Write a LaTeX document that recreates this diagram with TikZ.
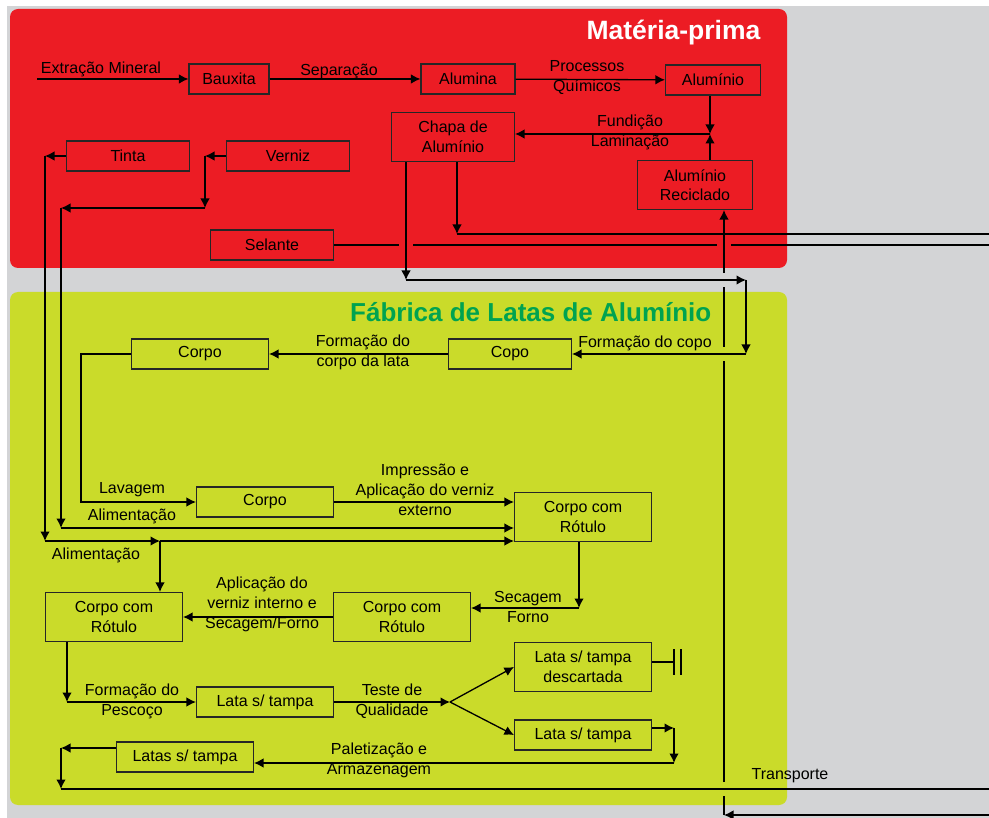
\documentclass[tikz,border=0pt]{standalone}
\usepackage{fontspec}
\setmainfont{Liberation Sans}
\usetikzlibrary{arrows.meta,calc}
\definecolor{matRed}{RGB}{236,28,36}
\definecolor{fabGreen}{RGB}{202,219,42}
\definecolor{fabTitle}{RGB}{0,163,80}
\definecolor{pageGray}{RGB}{211,212,214}
\tikzset{
  blk/.style={draw=black!85, line width=1.1pt, minimum height=30pt, inner sep=2pt,
    align=center, font=\fontsize{16}{19.5}\selectfont},
  tall/.style={minimum height=49pt},
  lbl/.style={align=center, inner sep=0pt, font=\fontsize{16}{20}\selectfont},
  arr/.style={-{Latex[length=9.5pt,width=9.5pt]}},
}
\begin{document}
\begin{tikzpicture}[x=1pt,y=-1pt,line width=1.3pt]
  \useasboundingbox (0,0) rectangle (989,818);
  \fill[white] (0,0) rectangle (989,818);
  \fill[pageGray] (7,6) rectangle (989,818);
  \fill[matRed,rounded corners=8pt] (10,9) rectangle (787,268);
  \fill[fabGreen,rounded corners=8pt] (10,292) rectangle (787,805);
  \node[font=\fontsize{26.5}{30}\selectfont\bfseries,text=white,anchor=east,inner sep=0pt] (tmat) at (761,33) {Matéria-prima};
  \node[font=\fontsize{26}{30}\selectfont\bfseries,text=fabTitle,anchor=east,inner sep=0pt] (tfab) at (712,312) {Fábrica de Latas de Alumínio};

  % materia-prima
  \node[blk,minimum width=80pt] (baux) at (229,79) {Bauxita};
  \node[blk,minimum width=94pt] (alna) at (468,79) {Alumina};
  \node[blk,minimum width=95pt] (alum) at (713,80) {Alumínio};
  \node[blk,tall,minimum width=123pt] (chapa) at (453,137) {Chapa de\\Alumínio};
  \node[blk,tall,minimum width=115pt] (recic) at (695,185) {Alumínio\\Reciclado};
  \node[blk,minimum width=123pt] (tinta) at (128,156) {Tinta};
  \node[blk,minimum width=123pt] (verniz) at (288,156) {Verniz};
  \node[blk,minimum width=123pt] (selante) at (272,245) {Selante};

  % fabrica
  \node[blk,minimum width=137pt] (corpoA) at (200,354) {Corpo};
  \node[blk,minimum width=123pt] (copo) at (510,354) {Copo};
  \node[blk,minimum width=137pt] (corpoB) at (265,502) {Corpo};
  \node[blk,tall,minimum width=137pt] (rotA) at (583,517) {Corpo com\\Rótulo};
  \node[blk,tall,minimum width=137pt] (rotB) at (402,617) {Corpo com\\Rótulo};
  \node[blk,tall,minimum width=137pt] (rotC) at (114,617) {Corpo com\\Rótulo};
  \node[blk,minimum width=137pt] (lataA) at (265,702) {Lata s/ tampa};
  \node[blk,tall,minimum width=137pt] (desc) at (583,667) {Lata s/ tampa\\descartada};
  \node[blk,minimum width=137pt] (lataB) at (583,735) {Lata s/ tampa};
  \node[blk,minimum width=137pt] (latas) at (185,757) {Latas s/ tampa};

  % labels
  \node[lbl] (lext) at (101,69) {Extração Mineral};
  \node[lbl] (lsep) at (339,71) {Separação};
  \node[lbl] (lqui) at (587,78) {Processos\\Químicos};
  \node[lbl] (lfun) at (630,132) {Fundição\\Laminação};
  \node[lbl] (lcopo) at (645,343) {Formação do copo};
  \node[lbl] (llata) at (363,352) {Formação do\\corpo da lata};
  \node[lbl] (llav) at (132,490) {Lavagem};
  \node[lbl] (lali1) at (132,516) {Alimentação};
  \node[lbl] (lali2) at (96,555) {Alimentação};
  \node[lbl] (limp) at (425,490) {Impressão e\\Aplicação do verniz\\externo};
  \node[lbl] (lsec) at (528,607) {Secagem\\Forno};
  \node[lbl] (lint) at (262,604) {Aplicação do\\verniz interno e\\Secagem/Forno};
  \node[lbl] (lpes) at (132,701) {Formação do\\Pescoço};
  \node[lbl] (ltes) at (392,701) {Teste de\\Qualidade};
  \node[lbl] (lpal) at (379,760) {Paletização e\\Armazenagem};
  \node[lbl] (ltra) at (790,776) {Transporte};

  % corners
  \coordinate (re) at (989,0);
  \coordinate (ext) at (37,79);
  \coordinate (jn) at (710,134);
  \coordinate (c1) at (406,280);
  \coordinate (c2) at (746,280);
  \coordinate (c3) at (746,354);
  \coordinate (c4) at (457,234);
  \coordinate (rb) at (724,815);
  \coordinate (tA) at (45,156);
  \coordinate (tB) at (45,541);
  \coordinate (tC) at (160,541);
  \coordinate (vA) at (205,156);
  \coordinate (vB) at (205,208);
  \coordinate (vC) at (61,208);
  \coordinate (vD) at (61,528);
  \coordinate (lv) at (81,502);
  \coordinate (sA) at (579,608);
  \coordinate (pA) at (67,702);
  \coordinate (qt) at (450,702);
  \coordinate (gd) at (674,662);
  \coordinate (bA) at (674,728);
  \coordinate (bB) at (674,763);
  \coordinate (tt) at (61,748);
  \coordinate (tu) at (61,789);

  % materia-prima flow
  \draw[arr] (ext) -- (ext -| baux.west);
  \draw[arr] (baux) -- (alna);
  \draw[arr] (alna) -- (alum);
  \draw[arr] (alum.south -| jn) -- (jn);
  \draw[arr] (recic.north -| jn) -- (jn);
  \draw[arr] (jn) -- (jn -| chapa.east);
  \draw[arr] (chapa.south -| c1) -- (c1);
  \draw[arr] (c1) -- (c2);
  \draw[arr] (c2) -- (c3);
  \draw[arr] (c3) -- (c3 -| copo.east);
  \draw[arr] (chapa.south -| c4) -- (c4);
  \draw (c4) -- (c4 -| re);
  \draw (selante.east) -- ($(selante.east -| c1)+(-7,0)$);
  \draw ($(selante.east -| c1)+(7,0)$) -- ($(selante.east -| rb)+(-7,0)$);
  \draw ($(selante.east -| rb)+(7,0)$) -- (selante.east -| re);

  % tinta e verniz
  \draw[arr] (tinta.west) -- (tA);
  \draw[arr] (tA) -- (tB);
  \draw[arr] (tB) -- (tC);
  \draw[arr] (tC) -- (tC -| rotA.west);
  \draw[arr] (tC) -- (tC |- rotC.north);
  \draw[arr] (verniz.west) -- (vA);
  \draw[arr] (vA) -- (vB);
  \draw[arr] (vB) -- (vC);
  \draw[arr] (vC) -- (vD);
  \draw[arr] (vD) -- (vD -| rotA.west);

  % fabrica flow
  \draw[arr] (copo) -- (corpoA);
  \draw[arr] (corpoA.west) -| (lv) -- (lv -| corpoB.west);
  \draw[arr] (corpoB.east) -- (corpoB.east -| rotA.west);
  \draw[arr] (rotA.south -| sA) -- (sA);
  \draw[arr] (sA) -- (sA -| rotB.east);
  \draw[arr] (rotB) -- (rotC);
  \draw[arr] (rotC.south -| pA) -- (pA);
  \draw[arr] (pA) -- (pA -| lataA.west);
  \draw[arr] (lataA.east) -- (qt);
  \draw[arr] (qt) -- (desc.west);
  \draw[arr] (qt) -- (lataB.west);
  \draw (desc.east |- gd) -- (gd);
  \draw ($(gd)+(0,-13)$) -- ($(gd)+(0,13)$);
  \draw ($(gd)+(7,-13)$) -- ($(gd)+(7,13)$);
  \draw[arr] (lataB.east |- bA) -- (bA);
  \draw[arr] (bA) -- (bB);
  \draw[arr] (bB) -- (bB -| latas.east);
  \draw[arr] (latas.west |- tt) -- (tt);
  \draw[arr] (tt) -- (tu);
  \draw (tu) -- (tu -| re);

  % retorno
  \draw[arr] (rb -| re) -- (rb);
  \draw (rb) -- ($(rb |- tu)+(0,7)$);
  \draw ($(rb |- tu)+(0,-7)$) -- ($(rb |- c3)+(0,7)$);
  \draw ($(rb |- c3)+(0,-7)$) -- ($(rb |- c1)+(0,7)$);
  \draw[arr] ($(rb |- c1)+(0,-7)$) -- (recic.south -| rb);
\end{tikzpicture}
\end{document}
